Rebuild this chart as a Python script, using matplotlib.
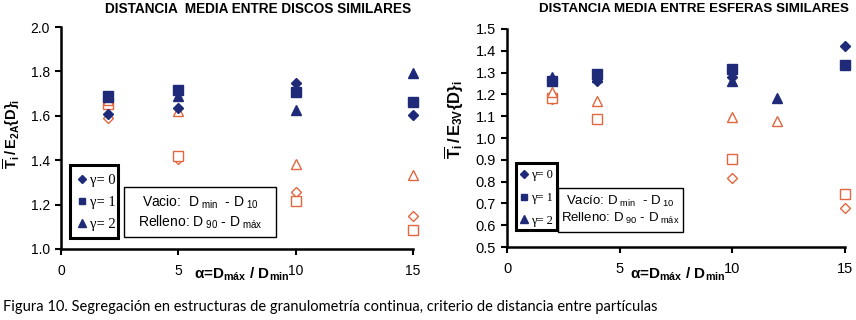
import numpy as np
import matplotlib
matplotlib.use("Agg")
import matplotlib.pyplot as plt
from matplotlib.lines import Line2D
from matplotlib.patches import Rectangle

plt.rcParams['font.family'] = ['Liberation Sans', 'DejaVu Sans']
plt.rcParams['mathtext.fontset'] = 'custom'
plt.rcParams['mathtext.rm'] = 'Liberation Sans'
plt.rcParams['mathtext.it'] = 'Liberation Sans:italic'
plt.rcParams['mathtext.bf'] = 'Liberation Sans:bold'

NAVY = '#1f2a78'
ORANGE = '#e2663e'

# ---- Left panel: discos (2D) ----
x_disc = [2, 5, 10, 15]
disc_fill_g0 = [1.61, 1.633, 1.75, 1.605]
disc_fill_g1 = [1.69, 1.715, 1.705, 1.663]
disc_fill_g2 = [1.685, 1.687, 1.628, 1.795]
disc_open_g0 = [1.588, 1.407, 1.258, 1.148]
disc_open_g1 = [1.655, 1.42, 1.215, 1.085]
disc_open_g2 = [1.67, 1.62, 1.385, 1.332]

# ---- Right panel: esferas (3D) ----
nan = np.nan
x_esf = [2, 4, 10, 12, 15]
esf_fill_g0 = [1.262, 1.262, 1.28, nan, 1.423]
esf_fill_g1 = [1.262, 1.292, 1.318, nan, 1.335]
esf_fill_g2 = [1.278, 1.28, 1.262, 1.182, nan]
esf_open_g0 = [1.18, 1.085, 0.815, nan, 0.68]
esf_open_g1 = [1.185, 1.085, 0.905, nan, 0.745]
esf_open_g2 = [1.21, 1.17, 1.098, 1.08, nan]

legend_labels = ['γ= 0', 'γ= 1', 'γ= 2']
markers = ['D', 's', '^']
msizes = [5.5, 6.5, 7]

fig = plt.figure(figsize=(8.56, 3.2), dpi=100)
axL = fig.add_axes([0.0713, 0.2219, 0.4112, 0.6937])
axR = fig.add_axes([0.5923, 0.2281, 0.3949, 0.6813])


def style(ax, ylim, yticks, fs):
    ax.set_xlim(0, 15)
    ax.set_ylim(*ylim)
    ax.set_xticks([0, 5, 10, 15])
    ax.set_yticks(yticks)
    ax.set_yticklabels([f'{v:.1f}' for v in yticks])
    ax.spines['top'].set_visible(False)
    ax.spines['right'].set_visible(False)
    ax.spines['left'].set_linewidth(1.8)
    ax.spines['bottom'].set_linewidth(1.8)
    ax.tick_params(axis='both', direction='out', length=4, width=1.5,
                   labelsize=fs, pad=4)
    ax.tick_params(axis='x', pad=7)
    ax.patch.set_alpha(0)


def draw(ax, x, fills, opens):
    for yv, m, ms in zip(fills, markers, msizes):
        ax.plot(x, yv, linestyle='none', marker=m, markersize=ms,
                color=NAVY, markeredgecolor=NAVY, clip_on=False, zorder=3)
    for yv, m, ms in zip(opens, markers, msizes):
        ax.plot(x, yv, linestyle='none', marker=m, markersize=ms,
                markerfacecolor='white', markeredgecolor=ORANGE,
                markeredgewidth=1.0, clip_on=False, zorder=2)


def gamma_legend(ax, anchor, rect, fs, spacing):
    handles = [Line2D([], [], linestyle='none', marker=m, markersize=ms - 1.5,
                      color=NAVY) for m, ms in zip(markers, msizes)]
    leg = ax.legend(handles, legend_labels, loc='center left',
                    bbox_to_anchor=anchor, frameon=False,
                    handlelength=0.6, handletextpad=0.25, labelspacing=spacing,
                    borderpad=0, borderaxespad=0,
                    prop={'family': 'Liberation Serif', 'size': fs})
    x0, x1, y0, y1 = rect
    ax.add_patch(Rectangle((x0, y0), x1 - x0, y1 - y0, transform=ax.transAxes,
                           facecolor='none', edgecolor='black', linewidth=2.2,
                           clip_on=False, zorder=6))
    return leg


def note_box(ax, rect, text, fs):
    x0, x1, y0, y1 = rect
    ax.add_patch(Rectangle((x0, y0), x1 - x0, y1 - y0, transform=ax.transAxes,
                           facecolor='white', edgecolor='black', linewidth=1.0,
                           clip_on=False, zorder=5))
    ax.text((x0 + x1) / 2, (y0 + y1) / 2, text, transform=ax.transAxes,
            ha='center', va='center', fontsize=fs, linespacing=1.2, zorder=6)


style(axL, (1.0, 2.0), [1.0, 1.2, 1.4, 1.6, 1.8, 2.0], 10)
style(axR, (0.5, 1.5), [0.5, 0.6, 0.7, 0.8, 0.9, 1.0, 1.1, 1.2, 1.3, 1.4, 1.5], 10.5)

draw(axL, x_disc, [disc_fill_g0, disc_fill_g1, disc_fill_g2],
     [disc_open_g0, disc_open_g1, disc_open_g2])
draw(axR, x_esf, [esf_fill_g0, esf_fill_g1, esf_fill_g2],
     [esf_open_g0, esf_open_g1, esf_open_g2])

gamma_legend(axL, (0.047, 0.21), (0.0256, 0.162, 0.0495, 0.378), 10.5, 0.62)
gamma_legend(axR, (0.040, 0.225), (0.0266, 0.148, 0.078, 0.385), 9, 0.85)

note_box(axL, (0.179, 0.611, 0.054, 0.279),
         'Vacio:  D$_{\\ \\mathrm{min}}$  - D$_{\\ \\mathrm{10}}$\n'
         'Relleno: D$_{\\ \\mathrm{90}}$ - D$_{\\ \\mathrm{máx}}$', 10)
note_box(axR, (0.151, 0.521, 0.069, 0.271),
         'Vacío: D$_{\\ \\mathrm{min}}$  - D$_{\\ \\mathrm{10}}$\n'
         'Relleno: D$_{\\ \\mathrm{90}}$ - D$_{\\ \\mathrm{máx}}$', 9.5)

# Axis labels
axL.set_ylabel(r'$\mathbf{\overline{T}_{i}\,/\,E_{2A}\{D\}_{i}}$', fontsize=10.5,
               labelpad=6)
axL.yaxis.set_label_coords(-0.11, 0.518)
axR.set_ylabel(r'$\mathbf{\overline{T}_{i}\,/\,E_{3V}\{D\}_{i}}$', fontsize=12,
               labelpad=6)
axR.yaxis.set_label_coords(-0.122, 0.583)
xlab = 'α=D$_{\\mathbf{máx}}$ / D$_{\\mathbf{min}}$'
axL.text(0.512, -0.115, xlab, transform=axL.transAxes, ha='center',
         va='center', fontsize=11, fontweight='bold')
axR.text(0.506, -0.125, xlab, transform=axR.transAxes, ha='center',
         va='center', fontsize=11, fontweight='bold')

# Titles
fig.text(0.302, 0.972, 'DISTANCIA  MEDIA ENTRE DISCOS SIMILARES',
         ha='center', va='center', fontsize=9.8, fontweight='bold')
fig.text(0.811, 0.972, 'DISTANCIA MEDIA ENTRE ESFERAS SIMILARES',
         ha='center', va='center', fontsize=9.6, fontweight='bold')

# Caption
fig.text(0.004, 1 - 307 / 320,
         'Figura 10. Segregación en estructuras de granulometría continua, '
         'criterio de distancia entre partículas',
         ha='left', va='center', fontsize=10.5, family=['Lato', 'DejaVu Sans'])

fig.savefig('out.png', dpi=100)
